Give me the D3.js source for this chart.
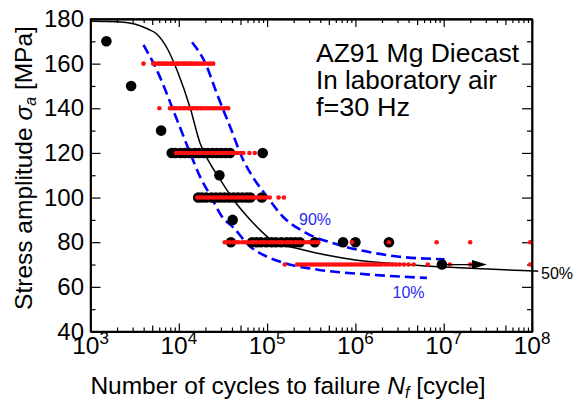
<!DOCTYPE html>
<html>
<head>
<meta charset="utf-8">
<script src="https://cdn.jsdelivr.net/npm/d3@7"></script>
<style>
  body { margin: 0; background: #fff; }
  text { font-family: "Liberation Sans", Arial, sans-serif; }
</style>
</head>
<body>
<svg id="chart" width="574" height="407"></svg>
<script>
// ---- data (log10 of cycles, stress in MPa) ----
const stressTicks = [40, 60, 80, 100, 120, 140, 160, 180];
const stressMinor = [50, 70, 90, 110, 130, 150, 170];
const decades = [3, 4, 5, 6, 7, 8];

// experimental results (big black circles)
const blackStress = [170, 150, 130, 120, 110, 100, 90, 80];
const blackLogN = [
    [3.18],
    [3.46],
    [3.80],
    [3.92, 3.96, 4.02, 4.07, 4.12, 4.18, 4.23, 4.28, 4.33, 4.38, 4.43, 4.48, 4.53, 4.58, 4.95],
    [4.46],
    [4.22, 4.26, 4.31, 4.37, 4.42, 4.47, 4.52, 4.57, 4.62, 4.67, 4.72, 4.77, 4.81, 4.94],
    [4.61],
    [4.59, 4.83, 4.88, 4.93, 4.99, 5.05, 5.10, 5.16, 5.22, 5.27, 5.32, 5.37, 5.54, 5.86, 6.00, 6.38]
];

// simulated results (small red dots)
const redStress = [160, 140, 120, 100, 80, 70];
const redLogN = [
    [3.60, 3.71, 3.73, 3.76, 3.78, 3.80, 3.83, 3.85, 3.87, 3.90, 3.92, 3.94, 3.97, 3.99, 4.01, 4.04, 4.06, 4.08, 4.11, 4.13, 4.15, 4.18, 4.20, 4.23, 4.26, 4.29, 4.33, 4.36, 4.39],
    [3.78, 3.90, 3.92, 3.95, 3.97, 4.00, 4.02, 4.05, 4.07, 4.10, 4.12, 4.15, 4.17, 4.20, 4.22, 4.25, 4.27, 4.30, 4.33, 4.36, 4.39, 4.42, 4.45, 4.48, 4.51, 4.54, 4.56],
    [3.97, 4.00, 4.03, 4.06, 4.09, 4.12, 4.15, 4.18, 4.21, 4.24, 4.27, 4.30, 4.33, 4.36, 4.39, 4.42, 4.45, 4.48, 4.51, 4.54, 4.57, 4.60, 4.63, 4.66, 4.70, 4.73, 4.80, 4.86],
    [4.21, 4.24, 4.27, 4.30, 4.33, 4.36, 4.39, 4.42, 4.45, 4.48, 4.51, 4.54, 4.57, 4.60, 4.63, 4.66, 4.69, 4.72, 4.75, 4.78, 4.81, 4.84, 4.87, 4.90, 4.93, 4.96, 4.99, 5.03, 5.13, 5.19],
    [4.52, 4.55, 4.58, 4.62, 4.65, 4.68, 4.72, 4.75, 4.78, 4.82, 4.85, 4.88, 4.92, 4.95, 4.98, 5.02, 5.05, 5.08, 5.12, 5.15, 5.18, 5.22, 5.25, 5.28, 5.32, 5.35, 5.38, 5.42, 5.45, 5.48, 5.52, 5.55, 5.58, 5.96, 6.38, 6.92, 7.30, 7.98],
    [5.20, 5.34, 5.37, 5.40, 5.43, 5.46, 5.49, 5.52, 5.55, 5.58, 5.61, 5.64, 5.67, 5.70, 5.73, 5.76, 5.79, 5.82, 5.85, 5.88, 5.91, 5.94, 5.97, 6.00, 6.03, 6.06, 6.09, 6.12, 6.15, 6.18, 6.21, 6.24, 6.27, 6.30, 6.34, 6.38, 6.42, 6.46, 6.50, 6.55, 6.60, 6.66, 6.82, 7.07, 7.30, 7.98]
];

// runout specimen
const runoutLogN = [6.98, 7.49];
const runoutStress = 70;

// fitted S-N curves
const curve50LogN = [3.0, 3.3, 3.5, 3.65, 3.75, 3.88, 3.99, 4.13, 4.24, 4.35, 4.47, 4.62, 4.81, 5.07, 5.37, 5.7, 6.0, 6.5, 6.9, 7.5, 8.07];
const curve50S = [179.0, 178.8, 177.8, 175.5, 173.3, 166, 156, 140, 124.5, 115.5, 108, 99, 90, 80.5, 77, 74, 72, 70.3, 69.1, 68, 67];
const curve90LogN = [4.15, 4.30, 4.43, 4.58, 4.73, 4.85, 5.0, 5.18, 5.45, 5.75, 6.13, 6.5, 7.01];
const curve90S = [169.6, 160.3, 146.7, 131.8, 116.8, 108.5, 100.4, 91.4, 84, 79.5, 75.8, 73.5, 72.4];
const curve10LogN = [3.60, 3.75, 3.98, 4.13, 4.24, 4.37, 4.48, 4.62, 4.81, 5.0, 5.18, 5.56, 6.13, 6.81];
const curve10S = [168.4, 157.2, 134.8, 119.8, 109.4, 100, 92, 86.5, 78, 73.5, 70.8, 67.8, 65.6, 64];

// ---- scales ----
const svg = d3.select("#chart");
const x = d3.scaleLog().domain([1e3, 1e8]).range([90.5, 532]);
const y = d3.scaleLinear().domain([40, 180]).range([331.5, 19]);
const xl = v => x(Math.pow(10, v));

// minor log ticks
const fives = [], minors = [];
decades.slice(0, -1).forEach(d => {
    for (let k = 2; k <= 9; k++) {
        const v = k * Math.pow(10, d);
        if (k === 5) fives.push(v); else minors.push(v);
    }
});

function styleAxis(g) {
    g.select(".domain").attr("stroke-width", 1.5);
    g.selectAll(".tick line").attr("stroke-width", 1.2);
}

// left axis
svg.append("g").attr("transform", "translate(90.5,0)")
    .call(d3.axisLeft(y).tickValues(stressTicks).tickSize(-10).tickSizeOuter(0).tickPadding(6.5))
    .call(styleAxis)
    .call(g => g.selectAll("text").attr("font-size", 24).attr("fill", "#000")
        .attr("font-family", "Liberation Sans, Arial, sans-serif"));
svg.append("g").attr("transform", "translate(90.5,0)")
    .call(d3.axisLeft(y).tickValues(stressMinor).tickSize(-5).tickSizeOuter(0).tickFormat(""))
    .call(styleAxis);

// right axis
svg.append("g").attr("transform", "translate(532,0)")
    .call(d3.axisRight(y).tickValues(stressTicks).tickSize(-10).tickSizeOuter(0).tickFormat(""))
    .call(styleAxis);
svg.append("g").attr("transform", "translate(532,0)")
    .call(d3.axisRight(y).tickValues(stressMinor).tickSize(-5).tickSizeOuter(0).tickFormat(""))
    .call(styleAxis);

// bottom and top axes
[[d3.axisBottom, 331.5], [d3.axisTop, 19]].forEach(([ax, pos]) => {
    svg.append("g").attr("transform", `translate(0,${pos})`)
        .call(ax(x).tickValues(decades.map(d => Math.pow(10, d))).tickSize(-8).tickSizeOuter(0).tickFormat(""))
        .call(styleAxis);
    svg.append("g").attr("transform", `translate(0,${pos})`)
        .call(ax(x).tickValues(fives).tickSize(-6).tickSizeOuter(0).tickFormat(""))
        .call(styleAxis);
    svg.append("g").attr("transform", `translate(0,${pos})`)
        .call(ax(x).tickValues(minors).tickSize(-4).tickSizeOuter(0).tickFormat(""))
        .call(styleAxis);
});

// decade labels 10^n
const xlab = svg.append("g").selectAll("text")
    .data(decades)
    .join("text")
    .attr("x", d => xl(d))
    .attr("y", 354)
    .attr("text-anchor", "middle")
    .attr("font-size", 24.5);
xlab.append("tspan").text("10");
xlab.append("tspan").attr("dy", -10).attr("font-size", 17).text(d => d);

// axis titles
const xt = svg.append("text")
    .attr("x", 288).attr("y", 394)
    .attr("text-anchor", "middle")
    .attr("font-size", 24.5);
xt.append("tspan").text("Number of cycles to failure ");
xt.append("tspan").attr("font-style", "italic").text("N");
xt.append("tspan").attr("font-style", "italic").attr("font-size", 16).attr("dy", 4).text("f");
xt.append("tspan").attr("dy", -4).text(" [cycle]");

const yt = svg.append("text")
    .attr("transform", "translate(32,168) rotate(-90)")
    .attr("text-anchor", "middle")
    .attr("font-size", 24.5);
yt.append("tspan").text("Stress amplitude ");
yt.append("tspan").attr("font-style", "italic").text("σ");
yt.append("tspan").attr("font-style", "italic").attr("font-size", 16).attr("dy", 4).text("a");
yt.append("tspan").attr("dy", -4).text(" [MPa]");

// curves
const line = d3.line().curve(d3.curveMonotoneX);
function pts(ln, s) { return ln.map((v, i) => [xl(v), y(s[i])]); }

svg.append("path")
    .attr("d", line(pts(curve50LogN, curve50S)))
    .attr("fill", "none").attr("stroke", "#000").attr("stroke-width", 1.5);

[[curve90LogN, curve90S], [curve10LogN, curve10S]].forEach(([ln, s]) => {
    svg.append("path")
        .attr("d", line(pts(ln, s)))
        .attr("fill", "none").attr("stroke", "#0000ff")
        .attr("stroke-width", 2.6).attr("stroke-dasharray", "10,5");
});

// black circles
const blackPts = blackStress.flatMap((s, i) => blackLogN[i].map(v => [v, s]));
svg.append("g").selectAll("circle")
    .data(blackPts.concat([[runoutLogN[0], runoutStress]]))
    .join("circle")
    .attr("cx", d => xl(d[0]))
    .attr("cy", d => y(d[1]))
    .attr("r", 5.3)
    .attr("fill", "#000");

// red dots
const redPts = redStress.flatMap((s, i) => redLogN[i].map(v => [v, s]));
svg.append("g").selectAll("circle")
    .data(redPts)
    .join("circle")
    .attr("cx", d => xl(d[0]))
    .attr("cy", d => y(d[1]))
    .attr("r", 2.3)
    .attr("fill", "#ff1010");

// runout arrow
const ax0 = xl(runoutLogN[0]), ax1 = xl(runoutLogN[1]), ay = y(runoutStress);
svg.append("line")
    .attr("x1", ax0).attr("x2", ax1 - 10).attr("y1", ay).attr("y2", ay)
    .attr("stroke", "#000").attr("stroke-width", 1.3);
svg.append("path")
    .attr("d", `M${ax1},${ay} L${ax1 - 15},${ay - 4.5} L${ax1 - 15},${ay + 4.5} Z`)
    .attr("fill", "#000");

// curve labels
svg.append("text").attr("x", 299).attr("y", 224.5).attr("font-size", 16)
    .attr("fill", "#2b2bf0").text("90%");
svg.append("text").attr("x", 392.5).attr("y", 297.5).attr("font-size", 16)
    .attr("fill", "#2b2bf0").text("10%");
svg.append("text").attr("x", 541).attr("y", 278.5).attr("font-size", 16)
    .attr("fill", "#000").text("50%");

// annotation
const note = ["AZ91 Mg Diecast", "In laboratory air", "f=30 Hz"];
const noteWidth = [203, 181, 94];
svg.append("g").selectAll("text")
    .data(note)
    .join("text")
    .attr("x", 316)
    .attr("y", (d, i) => 62 + i * 27.2)
    .attr("font-size", 25)
    .attr("textLength", (d, i) => noteWidth[i])
    .attr("lengthAdjust", "spacingAndGlyphs")
    .text(d => d);

// frame
svg.append("rect")
    .attr("x", 90.5).attr("y", 19)
    .attr("width", 532 - 90.5).attr("height", 331.5 - 19)
    .attr("fill", "none").attr("stroke", "#000").attr("stroke-width", 1.5);
</script>
</body>
</html>
